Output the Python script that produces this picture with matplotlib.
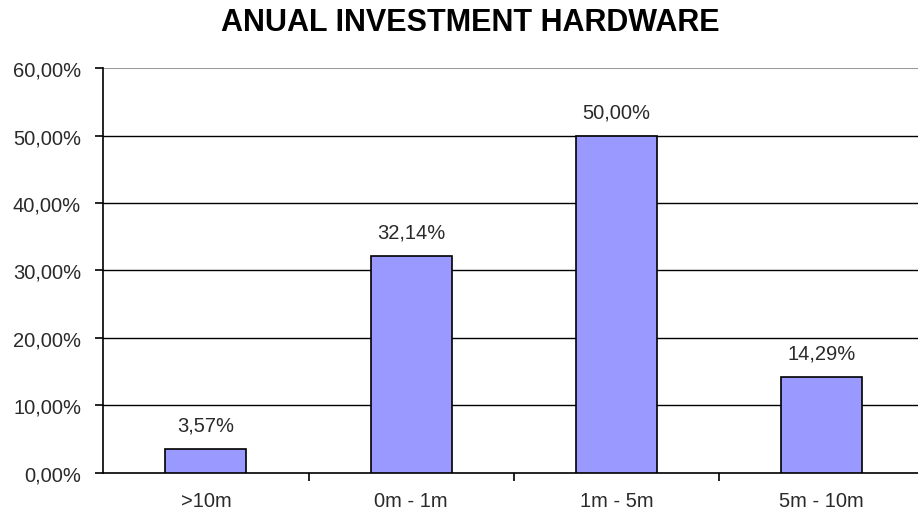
import numpy as np
import matplotlib.pyplot as plt
from matplotlib.ticker import FuncFormatter, MultipleLocator

# Data
categories = ['>10m', '0m - 1m', '1m - 5m', '5m - 10m']
shares = [3.57, 32.14, 50.00, 14.29]

plt.rcParams['font.family'] = ['Liberation Sans', 'DejaVu Sans']
txt_color = '#2a2a2a'

fig = plt.figure(figsize=(9.18, 5.10), dpi=100)
# plot area runs a little past the right edge of the image, as in the original
ax = fig.add_axes([0.1125, 0.0706, 0.8945, 0.7941])

x = np.arange(len(categories))
ax.bar(x, shares, width=0.395, color='#9999FF', edgecolor='black', linewidth=1.2, zorder=3)

for xi, v in zip(x, shares):
    ax.text(xi, v + 2.1, f'{v:.2f}'.replace('.', ',') + '%', ha='center', va='bottom',
            fontsize=14.5, color=txt_color)

ax.set_xlim(-0.5, len(categories) - 0.5)
ax.set_ylim(0, 60)
ax.yaxis.set_major_locator(MultipleLocator(10))
ax.yaxis.set_major_formatter(FuncFormatter(lambda v, p: f'{v:.2f}'.replace('.', ',') + '%'))

# gridlines: black, except top one which is grey
for yv in range(10, 60, 10):
    ax.axhline(yv, color='black', linewidth=1, zorder=1)
ax.axhline(60, color='#999999', linewidth=1.5, zorder=1)

# category ticks sit between the bars
ax.set_xticks(x)
ax.set_xticklabels(categories, fontsize=14.5, color=txt_color)
ax.set_xticks(np.arange(0.5, len(categories) - 0.5, 1), minor=True)
ax.tick_params(axis='x', which='major', length=0, pad=13)
ax.tick_params(axis='x', which='minor', length=6, width=1.2, direction='out')
ax.tick_params(axis='y', length=6, width=1.2, direction='out', labelsize=14.5,
               labelcolor=txt_color, pad=10)

for s in ['top', 'right']:
    ax.spines[s].set_visible(False)
ax.spines['left'].set_linewidth(1.2)
ax.spines['bottom'].set_linewidth(1.2)

fig.text(470 / 918, 1 - 23 / 510, 'ANUAL INVESTMENT HARDWARE', ha='center', va='center',
         fontsize=22, fontweight='bold')

fig.savefig('out.png', dpi=100)
